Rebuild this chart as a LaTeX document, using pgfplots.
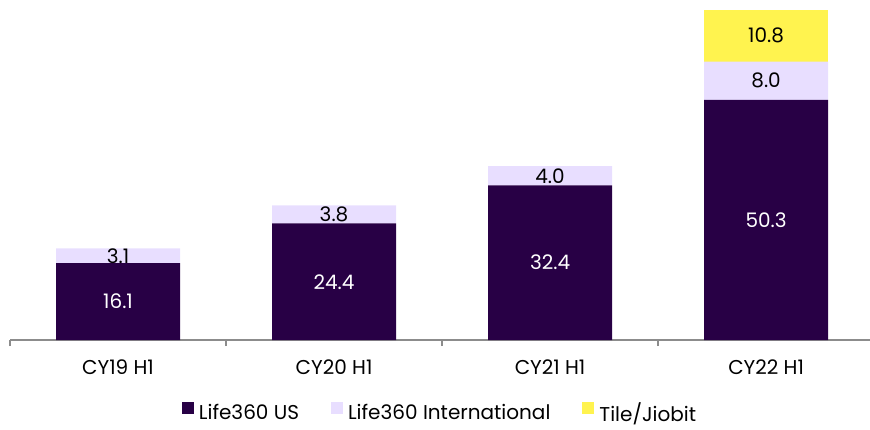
\documentclass[border=0pt]{standalone}
\usepackage{pgfplots}
\pgfplotsset{compat=1.18}
\usepackage{fontspec}
\setmainfont{Poppins}

\definecolor{lusa}{RGB}{40,0,69}
\definecolor{lint}{RGB}{232,222,255}
\definecolor{ltile}{RGB}{255,243,79}
\definecolor{axgray}{RGB}{140,140,140}

\newcommand{\cfont}{\fontsize{20}{23}\selectfont}

\pgfplotsset{
  base/.style={
    width=860pt, height=340pt, scale only axis,
    xmin=-0.5, xmax=3.481, ymin=0, ymax=71.2,
    at={(10pt,89pt)}, anchor=south west,
  },
}

\begin{document}
\begin{tikzpicture}
\useasboundingbox (0,0) rectangle (870pt,429pt);

\begin{axis}[
  base,
  ybar stacked,
  bar width=0.574,
  axis y line=none,
  axis x line*=bottom,
  x axis line style={axgray, line width=1.2pt, -},
  xtick={0,1,2,3},
  xticklabels={CY19 H1,CY20 H1,CY21 H1,CY22 H1},
  xtick align=outside,
  major tick length=0pt,
  extra x ticks={-0.5,0.5,1.5,2.5},
  extra x tick labels={},
  extra x tick style={major tick length=6pt, tick style={axgray, line width=1.2pt}},
  ticklabel style={font=\cfont, yshift=-16pt},
  legend style={at={(0.5,-0.214)}, anchor=center, draw=none,
    font=\cfont, legend columns=-1,
    /tikz/every even column/.append style={column sep=30pt}},
  legend image code/.code={\fill[#1] (0pt,-1pt) rectangle (12pt,11pt); \path (15pt,0pt);},
]
\addplot[fill=lusa, draw=none] coordinates {(0,16.1) (1,24.4) (2,32.4) (3,50.3)};
\addlegendentry{Life360 US}
\addplot[fill=lint, draw=none] coordinates {(0,3.1) (1,3.8) (2,4.0) (3,8.0)};
\addlegendentry{Life360 International}
\addplot[fill=ltile, draw=none] coordinates {(0,0) (1,0) (2,0) (3,10.8)};
\addlegendentry{Tile/Jiobit}
\end{axis}

\begin{axis}[
  base,
  axis lines=none,
  ticks=none,
]
\addplot[only marks, mark=*, mark size=0pt, mark options={draw=none, fill=none},
  nodes near coords, point meta=explicit symbolic,
  nodes near coords style={anchor=center, font=\cfont, text=white}]
  table[meta=lab] {
x y lab
0 8.05 16.1
1 12.2 24.4
2 16.2 32.4
3 25.15 50.3
};
\addplot[only marks, mark=*, mark size=0pt, mark options={draw=none, fill=none},
  nodes near coords, point meta=explicit symbolic,
  nodes near coords style={anchor=center, font=\cfont, text=black}]
  table[meta=lab] {
x y lab
0 17.65 3.1
1 26.3 3.8
2 34.4 4.0
3 54.3 8.0
3 63.7 10.8
};
\end{axis}
\end{tikzpicture}
\end{document}
